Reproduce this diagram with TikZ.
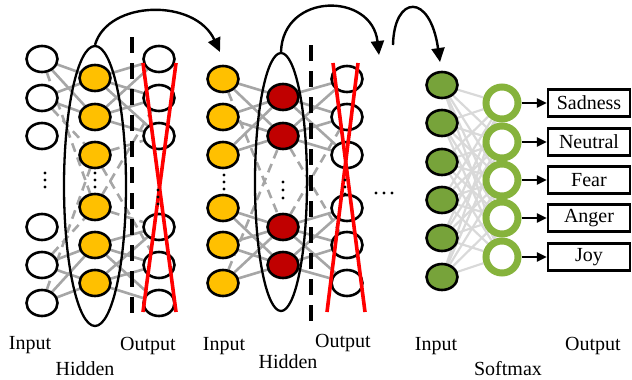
\documentclass[tikz,border=0pt]{standalone}
\usepackage{fontspec}
\setmainfont{Liberation Serif}
\usetikzlibrary{shapes.geometric,arrows.meta}
\pgfdeclarelayer{bg}
\pgfsetlayers{bg,main}
\definecolor{yel}{HTML}{FFC000}
\definecolor{dred}{HTML}{C00000}
\definecolor{grn}{HTML}{77A33A}
\definecolor{ringc}{HTML}{86B33C}
\definecolor{lg}{HTML}{A6A6A6}
\definecolor{vlg}{HTML}{D9D9D9}
\begin{document}
\begin{tikzpicture}[x=1pt,y=-1pt,
  neuron/.style={ellipse,draw,line width=2.6pt,minimum width=31pt,minimum height=26pt,inner sep=0pt,fill=white},
  yneuron/.style={neuron,fill=yel},
  rneuron/.style={neuron,fill=dred},
  gneuron/.style={neuron,fill=grn},
  ringn/.style={circle,draw=ringc,line width=7pt,minimum size=32pt,inner sep=0pt,fill=white},
  bigell/.style={ellipse,draw,line width=2.3pt,inner sep=0pt},
  conn/.style={draw=lg,line width=2.6pt},
  dconn/.style={draw=lg,line width=2.6pt,dash pattern=on 9pt off 6pt},
  lconn/.style={draw=vlg,line width=2.2pt},
  cut/.style={draw=red,line width=3.6pt},
  sep/.style={draw,line width=4.5pt,dash pattern=on 16pt off 10pt},
  curarr/.style={draw,line width=2.4pt,-{Triangle[length=14pt,width=13pt]}},
  outarr/.style={draw,line width=2.4pt,-{Triangle[length=10pt,width=9pt]}},
  lbox/.style={rectangle,draw,line width=2.5pt,minimum width=82pt,minimum height=27pt,inner sep=0pt,font=\fontsize{20}{24}\selectfont},
  lab/.style={anchor=base,inner sep=0pt,font=\fontsize{20}{24}\selectfont},
  dotc/.style={fill=black}
]
\useasboundingbox (0,0) rectangle (632,380);

% ---------- Panel 1 ----------
\foreach \i/\y in {1/59,2/98,3/136,4/227,5/265,6/303} {
  \node[neuron] (ia\i) at (42,\y) {};
  \node[neuron] (oa\i) at (159,\y) {};
}
\foreach \i/\y in {1/78,2/117,3/155,4/207,5/245,6/283} {
  \node[yneuron] (ha\i) at (95,\y) {};
}
\node[bigell,minimum width=62pt,minimum height=280pt] (ella) at (95,186) {};

\begin{pgfonlayer}{bg}
\foreach \a in {1,2} \foreach \b in {1,2} \draw[conn] (ia\a) -- (ha\b);
\foreach \a in {5,6} \foreach \b in {5,6} \draw[conn] (ia\a) -- (ha\b);
\foreach \a in {1,2} \foreach \b in {1,2,3} \draw[conn] (ha\a) -- (oa\b);
\foreach \a in {5,6} \foreach \b in {4,5,6} \draw[conn] (ha\a) -- (oa\b);
\draw[dconn] (ia1) -- (ha4);
\draw[dconn] (ia2) -- (ha3);
\draw[dconn] (ia6) -- (ha3);
\draw[dconn] (ia5) -- (ha4);
\draw[dconn] (ha4) -- (oa2);
\draw[dconn] (ha3) -- (oa3);
\draw[dconn] (ha3) -- (oa5);
\draw[dconn] (ha4) -- (oa4);
\end{pgfonlayer}

\draw[sep] (132,37) -- (132,318);
\draw[cut] (143,63) -- (176,312);
\draw[cut] (176,63) -- (143,312);

\foreach \y in {173,180,187} {\fill[dotc] (45,\y) circle (1.6pt); \fill[dotc] (95,\y) circle (1.6pt);}
\foreach \y in {190,197,204} \fill[dotc] (158,\y) circle (1.6pt);

% ---------- Panel 2 ----------
\foreach \i/\y in {1/79,2/117,3/155,4/208,5/245,6/283} {
  \node[yneuron] (ib\i) at (223,\y) {};
  \node[neuron] (ob\i) at (347,\y) {};
}
\foreach \i/\y in {1/97,2/136,3/227,4/265} {
  \node[rneuron] (hb\i) at (283,\y) {};
}
\node[bigell,minimum width=52pt,minimum height=258pt] (ellb) at (281,182) {};

\begin{pgfonlayer}{bg}
\foreach \a in {1,2,3} \foreach \b in {1,2} \draw[conn] (ib\a) -- (hb\b);
\foreach \a in {4,5,6} \foreach \b in {3,4} \draw[conn] (ib\a) -- (hb\b);
\foreach \a in {1,2} \foreach \b in {1,2,3} \draw[conn] (hb\a) -- (ob\b);
\foreach \a in {3,4} \foreach \b in {4,5,6} \draw[conn] (hb\a) -- (ob\b);
\draw[dconn] (ib1) -- (hb3);
\draw[dconn] (ib6) -- (hb2);
\draw[dconn] (hb3) -- (ob2);
\draw[dconn] (hb2) -- (ob5);
\end{pgfonlayer}

\draw[sep] (311,45) -- (311,327);
\draw[cut] (333,63) -- (365,312);
\draw[cut] (358,63) -- (327,312);

\foreach \y in {175,182,189} \fill[dotc] (224,\y) circle (1.6pt);
\foreach \y in {182,190,198} \fill[dotc] (283,\y) circle (1.6pt);
\foreach \y in {180,187,194} \fill[dotc] (345,\y) circle (1.6pt);
\foreach \x in {376,384,392} \fill[dotc] (\x,193) circle (1.6pt);

% ---------- Panel 3 ----------
\foreach \i/\y in {1/85,2/123,3/162,4/200,5/238,6/277} {
  \node[gneuron] (ic\i) at (442,\y) {};
}
\foreach \i/\y/\t in {1/103/Sadness,2/142/Neutral,3/180/Fear,4/218/Anger,5/257/Joy} {
  \node[ringn] (sm\i) at (502,\y) {};
  \node[lbox] (bx\i) at (589,\y) {\t};
  \draw[outarr] (sm\i) -- (bx\i);
}
\begin{pgfonlayer}{bg}
\foreach \a in {1,...,6} \foreach \b in {1,...,5} \draw[lconn] (ic\a) -- (sm\b);
\end{pgfonlayer}

% ---------- curved arrows ----------
\coordinate (ta) at (220,52);
\coordinate (tb) at (379,55);
\coordinate (sc) at (393,45);
\coordinate (tc) at (440,62);
\draw[curarr] (ella.north) .. controls (108,0) and (195,-2) .. (ta);
\draw[curarr] (ellb.north) .. controls (283,-8) and (372,-8) .. (tb);
\draw[curarr] (sc) .. controls (394,-5) and (430,-8) .. (tc);

% ---------- labels ----------
\node[lab] (l1) at (30,349) {Input};
\node[lab] (l2) at (85,375) {Hidden};
\node[lab] (l3) at (148,350) {Output};
\node[lab] (l4) at (224,350) {Input};
\node[lab] (l5) at (288,368) {Hidden};
\node[lab] (l6) at (343,347) {Output};
\node[lab] (l7) at (436,350) {Input};
\node[lab] (l8) at (508,375) {Softmax};
\node[lab] (l9) at (593,350) {Output};
\end{tikzpicture}
\end{document}
